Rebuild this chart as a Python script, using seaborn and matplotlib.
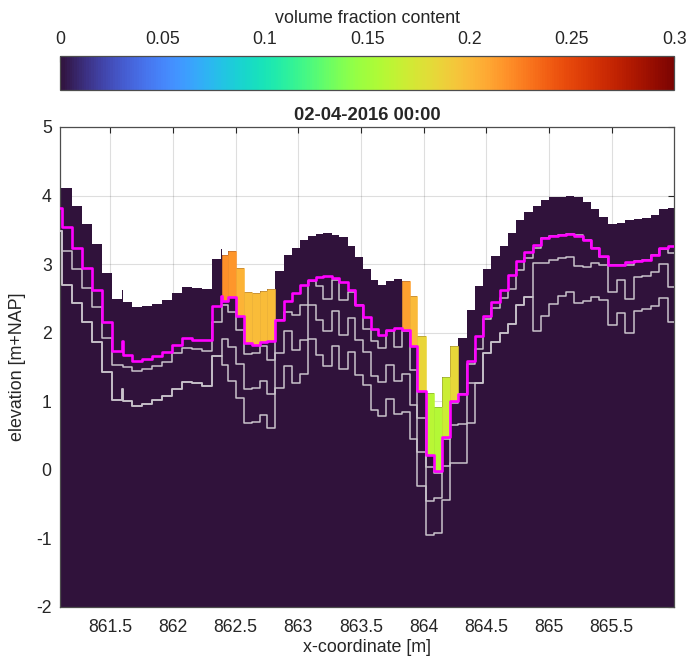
import numpy as np
import pandas as pd
import matplotlib
matplotlib.use("Agg")
import matplotlib.pyplot as plt
import seaborn as sns
from matplotlib.colors import Normalize
from matplotlib.cm import ScalarMappable

# ---- data -------------------------------------------------------------
x_edges = [861.090, 861.115, 861.195, 861.274, 861.354, 861.434, 861.514, 861.593, 861.601,
           861.673, 861.753, 861.833, 861.912, 861.992, 862.072, 862.152, 862.231, 862.311,
           862.383, 862.391, 862.443, 862.505, 862.569, 862.630, 862.696, 862.754, 862.816,
           862.883, 862.949, 863.015, 863.077, 863.140, 863.201, 863.266, 863.328, 863.394,
           863.454, 863.518, 863.579, 863.640, 863.704, 863.765, 863.829, 863.890, 863.951,
           864.016, 864.081, 864.144, 864.209, 864.275, 864.343, 864.408, 864.474, 864.541,
           864.608, 864.674, 864.738, 864.804, 864.871, 864.937, 865.003, 865.070, 865.136,
           865.203, 865.270, 865.336, 865.402, 865.474, 865.541, 865.607, 865.679, 865.746,
           865.814, 865.880, 865.950, 866.020]

surface = [4.108, 4.108, 3.850, 3.585, 3.292, 2.870, 2.492, 2.616, 2.444, 2.371, 2.393, 2.422,
           2.481, 2.578, 2.660, 2.645, 2.636, 3.073, 3.216, 3.136, 3.194, 2.942, 2.597, 2.573,
           2.612, 2.636, 2.893, 3.126, 3.242, 3.345, 3.413, 3.438, 3.452, 3.428, 3.394, 3.267,
           3.097, 2.932, 2.762, 2.699, 2.748, 2.782, 2.748, 2.529, 1.947, 1.121, 0.917, 1.354,
           1.810, 1.922, 2.335, 2.674, 2.922, 3.111, 3.267, 3.457, 3.642, 3.755, 3.850, 3.942,
           3.978, 3.985, 3.999, 3.981, 3.908, 3.803, 3.690, 3.592, 3.598, 3.642, 3.651, 3.671,
           3.723, 3.802, 3.825]

layer_magenta = [3.817, 3.534, 3.242, 2.942, 2.622, 2.153, 1.728, 1.873, 1.669, 1.582, 1.617,
                 1.658, 1.716, 1.825, 1.923, 1.898, 1.898, 2.383, 2.539, 2.466, 2.514, 2.237,
                 1.850, 1.815, 1.864, 1.873, 2.189, 2.456, 2.578, 2.699, 2.772, 2.806, 2.820,
                 2.796, 2.738, 2.617, 2.408, 2.223, 2.053, 1.971, 2.034, 2.068, 2.034, 1.801,
                 1.145, 0.213, -0.020, 0.475, 1.000, 1.111, 1.582, 1.946, 2.237, 2.444, 2.626,
                 2.835, 3.044, 3.176, 3.282, 3.380, 3.413, 3.428, 3.442, 3.417, 3.345, 3.234,
                 3.111, 2.986, 2.986, 3.024, 3.049, 3.063, 3.136, 3.228, 3.257]

layer_gray1 = [3.48, 3.187, 2.928, 2.651, 2.368, 1.923, 1.527, 1.527, 1.505, 1.436, 1.471, 1.509,
               1.570, 1.701, 1.777, 1.762, 1.733, 2.153, 2.153, 2.408, 2.301, 2.044, 1.690,
               1.704, 1.80, 1.607, 2.19, 2.296, 2.262, 2.408, 2.748, 2.675, 2.490, 2.772, 2.481,
               2.60, 2.408, 2.05, 1.874, 1.777, 2.03, 1.79, 2.02, 1.461, 0.757, 0.043, -0.05,
               0.45, 0.98, 1.10, 1.55, 1.76, 2.20, 2.36, 2.50, 2.63, 2.92, 3.09, 3.23, 3.38,
               3.41, 3.43, 3.44, 3.42, 3.35, 3.23, 3.11, 2.98, 2.98, 2.98, 3.05, 3.06, 3.13,
               3.22, 3.16]

layer_gray2 = [3.48, 2.699, 2.437, 2.153, 1.869, 1.422, 1.024, 1.184, 0.999, 0.936, 0.966, 1.020,
               1.075, 1.184, 1.276, 1.261, 1.228, 1.665, 1.665, 1.908, 1.792, 1.544, 1.180,
               1.194, 1.30, 1.111, 1.70, 2.019, 1.752, 1.898, 2.408, 2.189, 2.019, 2.311, 1.971,
               2.214, 1.898, 1.72, 1.364, 1.277, 1.534, 1.29, 1.40, 0.951, 0.257, -0.457, -0.41,
               0.05, 0.66, 0.67, 1.27, 1.27, 1.70, 1.86, 2.00, 2.12, 2.40, 2.52, 3.02, 3.02,
               3.06, 3.09, 3.10, 2.97, 2.96, 3.015, 2.99, 2.60, 2.77, 2.49, 2.81, 2.83, 2.89,
               3.00, 2.66]

layer_gray3 = [3.48, 2.699, 2.437, 2.153, 1.869, 1.422, 1.024, 1.184, 0.999, 0.936, 0.966, 1.020,
               1.075, 1.184, 1.276, 1.261, 1.228, 1.665, 1.665, 1.534, 1.291, 1.049, 0.685,
               0.694, 0.80, 0.612, 1.19, 1.519, 1.267, 1.398, 1.907, 1.679, 1.510, 1.811, 1.471,
               1.713, 1.388, 1.23, 0.869, 0.781, 1.034, 0.81, 0.85, 0.451, -0.239, -0.957,
               -0.92, -0.44, 0.10, 0.10, 0.68, 1.27, 1.70, 1.86, 2.00, 2.12, 2.40, 2.52, 2.02,
               2.24, 2.42, 2.54, 2.59, 2.44, 2.46, 2.52, 2.47, 2.11, 2.28, 1.99, 2.32, 2.34, 2.39,
               2.50, 2.15]

# volume fraction of the top layer (surface to magenta line)
top_layer_vf = [0.0] * 19 + [0.218, 0.216, 0.203, 0.199, 0.199, 0.199, 0.199] + [0.0] * 16 + \
               [0.212, 0.200, 0.185, 0.160, 0.158, 0.168, 0.183] + [0.0] * 26

x_ticks = [861.5, 862.0, 862.5, 863.0, 863.5, 864.0, 864.5, 865.0, 865.5]
x_tick_labels = ["861.5", "862", "862.5", "863", "863.5", "864", "864.5", "865", "865.5"]
y_ticks = [-2, -1, 0, 1, 2, 3, 4, 5]
cb_ticks = [0, 0.05, 0.1, 0.15, 0.2, 0.25, 0.3]
cb_tick_labels = ["0", "0.05", "0.1", "0.15", "0.2", "0.25", "0.3"]

assert len(x_edges) == len(surface) + 1 == len(layer_magenta) + 1 == len(top_layer_vf) + 1
assert len(layer_gray1) == len(layer_gray2) == len(layer_gray3) == len(surface)

# ---- style ------------------------------------------------------------
sns.set_style("white")
plt.rcParams["font.family"] = ["Liberation Sans", "DejaVu Sans"]
plt.rcParams["text.color"] = "#262626"
plt.rcParams["axes.labelcolor"] = "#262626"
plt.rcParams["xtick.color"] = "#262626"
plt.rcParams["ytick.color"] = "#262626"

TICK_FS = 12.7
LABEL_FS = 12.9

cmap = plt.get_cmap("turbo")
norm = Normalize(vmin=0.0, vmax=0.3)
base = cmap(norm(0.0))

fig = plt.figure(figsize=(6.86, 6.63), dpi=100)
ax = fig.add_axes([0.0875, 0.0845, 0.8955, 0.724])

edges = np.array(x_edges)
widths = np.diff(edges)
surf = np.array(surface)
mag = np.array(layer_magenta)
vf = np.array(top_layer_vf)

# whole profile filled down to the bottom
ax.stairs(surf, edges, baseline=-2.0, fill=True, color=base, linewidth=0, zorder=2)
# coloured top-layer cells
sel = vf > 0
cols = cmap(norm(vf[sel]))
ax.bar(edges[:-1][sel], (surf - mag)[sel], bottom=mag[sel], width=widths[sel], align="edge",
       color=cols, edgecolor=cols, linewidth=0.4, zorder=3)

# layer interfaces as step lines
def step_frame(vals):
    return pd.DataFrame({"x": edges, "y": list(vals) + [vals[-1]]})

for g in (layer_gray3, layer_gray2, layer_gray1):
    sns.lineplot(data=step_frame(g), x="x", y="y", ax=ax, drawstyle="steps-post",
                 estimator=None, sort=False, color="#c9c3cb", linewidth=1.1, zorder=4)
sns.lineplot(data=step_frame(layer_magenta), x="x", y="y", ax=ax, drawstyle="steps-post",
             estimator=None, sort=False, color="#ff00ff", linewidth=1.9, zorder=5)

ax.set_xlim(861.1, 866.0)
ax.set_ylim(-2, 5)
ax.set_xticks(x_ticks)
ax.set_xticklabels(x_tick_labels)
ax.set_yticks(y_ticks)
ax.set_yticklabels([str(v) for v in y_ticks])
ax.tick_params(direction="in", top=True, right=True, length=4, width=0.8, labelsize=TICK_FS)
ax.tick_params(axis="x", pad=9)
ax.tick_params(axis="y", pad=6)
ax.grid(True, color="#262626", alpha=0.15, linewidth=0.8)
ax.set_axisbelow(True)
for s in ax.spines.values():
    s.set_color("#4d4d4d")
    s.set_linewidth(0.9)
ax.set_xlabel("x-coordinate [m]", fontsize=LABEL_FS, labelpad=2)
ax.set_ylabel("elevation [m+NAP]", fontsize=LABEL_FS, labelpad=7)
ax.set_title("02-04-2016 00:00", fontsize=13.3, fontweight="bold", pad=5)

# colorbar
cax = fig.add_axes([0.0875, 0.864, 0.8955, 0.051])
sm = ScalarMappable(norm=norm, cmap=cmap)
cb = fig.colorbar(sm, cax=cax, orientation="horizontal")
cb.set_ticks(cb_ticks)
cb.set_ticklabels(cb_tick_labels)
cax.xaxis.set_ticks_position("top")
cax.xaxis.set_label_position("top")
cax.tick_params(direction="in", length=4, width=0.8, labelsize=TICK_FS, pad=6)
cb.outline.set_edgecolor("#4d4d4d")
cb.outline.set_linewidth(0.9)
cb.set_label("volume fraction content", fontsize=LABEL_FS, labelpad=6)

fig.savefig("out.png", dpi=100)
